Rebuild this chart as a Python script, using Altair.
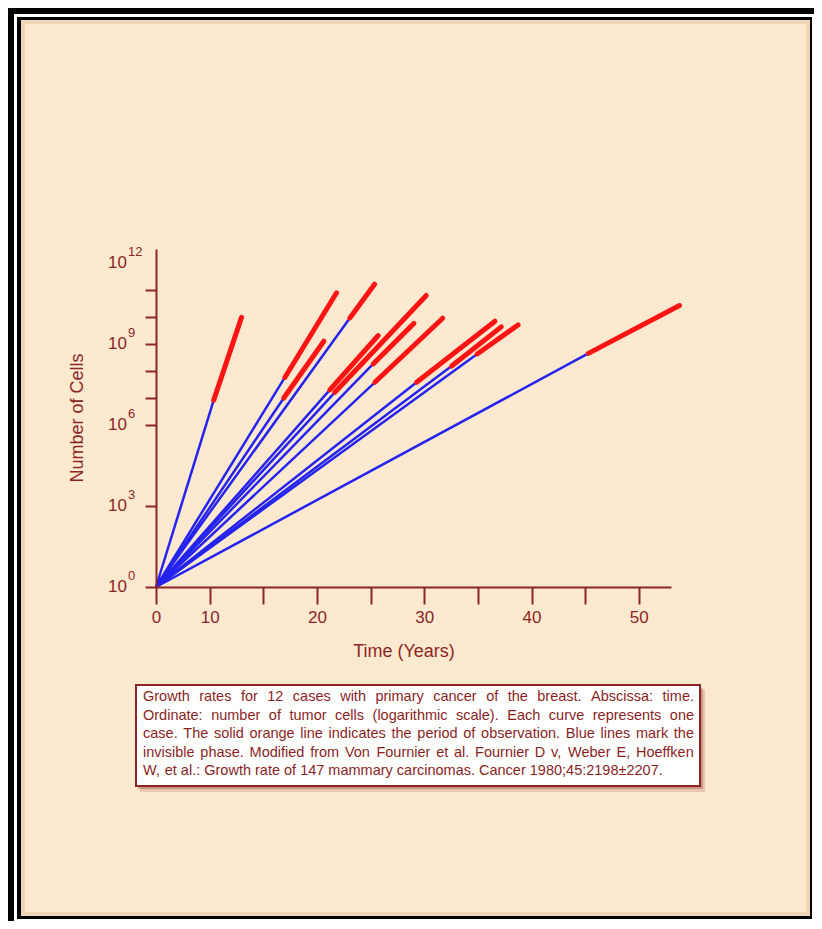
import altair as alt
import pandas as pd

# ---------------- data ----------------
case_ids = list(range(1, 13))
origin_time = 5.0          # the axis point labelled "0"
origin_cells = 1.0         # 10^0
# start / end of the observed (solid red) phase, time in axis units
obs_start_time = [10.38, 17.01, 16.91, 23.07, 21.20, 21.67, 25.24, 25.40, 29.29, 32.56, 34.94, 45.30]
obs_end_time = [12.97, 21.83, 20.64, 25.37, 25.71, 30.19, 29.04, 31.72, 36.59, 37.18, 38.74, 53.79]
# number of cells as log10 exponents
obs_start_log_cells = [6.91, 7.75, 6.99, 9.95, 7.29, 7.20, 8.25, 7.57, 7.57, 8.17, 8.62, 8.64]
obs_end_log_cells = [9.97, 10.88, 9.09, 11.20, 9.30, 10.78, 9.75, 9.94, 9.83, 9.62, 9.69, 10.41]

x_tick_values = [5, 10, 15, 20, 25, 30, 35, 40, 45, 50]
y_tick_exponents = [0, 3, 6, 7, 8, 9, 10, 11]
y_label_exponents = [0, 3, 6, 9, 12]

caption_lines = [
    "Growth rates for 12 cases with primary cancer of the breast. Abscissa: time.",
    "Ordinate: number of tumor cells (logarithmic scale). Each curve represents one",
    "case. The solid orange line indicates the period of observation. Blue lines mark the",
    "invisible phase. Modified from Von Fournier et al. Fournier D v, Weber E, Hoeffken",
    "W, et al.: Growth rate of 147 mammary carcinomas. Cancer 1980;45:2198\u00b12207.",
]

# ---------------- styling ----------------
AX = "#8c2626"
BLUE = "#2424ee"
RED = "#ff1414"
PEACH = "#fde9cf"
FONT = "Liberation Sans"

# ---------------- tables ----------------
rows = []
for i, c in enumerate(case_ids):
    rows.append(dict(case=c, phase="invisible", order=0, time=origin_time, cells=origin_cells))
    rows.append(dict(case=c, phase="invisible", order=1, time=obs_start_time[i],
                     cells=10 ** obs_start_log_cells[i]))
    rows.append(dict(case=c, phase="observed", order=0, time=obs_start_time[i],
                     cells=10 ** obs_start_log_cells[i]))
    rows.append(dict(case=c, phase="observed", order=1, time=obs_end_time[i],
                     cells=10 ** obs_end_log_cells[i]))
lines_df = pd.DataFrame(rows)

ylab_df = pd.DataFrame({
    "cells": [10.0 ** e for e in y_label_exponents],
    "base": ["10"] * len(y_label_exponents),
    "exp": [str(e) for e in y_label_exponents],
})

# justified caption layout using Arial / Liberation Sans advance widths
W = {' ': 278, '(': 333, ')': 333, ',': 278, '-': 333, '.': 278, ':': 278, ';': 278, '\u00b1': 549}
for ch in "0123456789":
    W[ch] = 556
W.update(dict(zip("ABCDEFGHIJKLMNOPQRSTUVWXYZ",
                  [667, 667, 722, 722, 667, 611, 778, 722, 278, 500, 667, 556, 833, 722, 778,
                   667, 778, 722, 667, 611, 722, 667, 944, 667, 667, 611])))
W.update(dict(zip("abcdefghijklmnopqrstuvwxyz",
                  [556, 556, 500, 556, 556, 278, 556, 556, 222, 222, 500, 222, 833, 556, 556,
                   556, 556, 333, 500, 278, 556, 500, 722, 500, 500, 500])))
CAP_FS = 14.5
CAP_LEFT, CAP_RIGHT = -13, 538
CAP_TOP, CAP_STEP = 448, 18.5


def wwidth(s):
    return sum(W.get(ch, 556) for ch in s) / 1000.0 * CAP_FS


cap_rows = []
for li, line in enumerate(caption_lines):
    words = line.split(" ")
    y = CAP_TOP + li * CAP_STEP
    if li < len(caption_lines) - 1:
        total = sum(wwidth(w) for w in words)
        gap = (CAP_RIGHT - CAP_LEFT - total) / (len(words) - 1)
    else:
        gap = wwidth(" ")
    x = CAP_LEFT
    for w in words:
        cap_rows.append(dict(word=w, px=x, py=y))
        x += wwidth(w) + gap
cap_df = pd.DataFrame(cap_rows)

one = pd.DataFrame({"k": [0]})

# ---------------- encodings ----------------
xscale = alt.Scale(domain=[5, 53], nice=False, zero=False)
yscale = alt.Scale(type="log", domain=[1, 10 ** 12.5], nice=False)
xaxis = alt.Axis(values=x_tick_values, title=None, grid=False, zindex=1,
                 labelExpr="datum.value == 5 ? '0' : (datum.value % 10 == 0 ? datum.label : '')",
                 domainColor=AX, domainWidth=2, tickColor=AX, tickWidth=2, tickSize=17,
                 labelColor=AX, labelFont=FONT, labelFontSize=17, labelPadding=5,
                 labelFlush=False, labelOverlap=False)
yaxis = alt.Axis(values=[10.0 ** e for e in y_tick_exponents], title=None, grid=False, zindex=1,
                 labels=False, domainColor=AX, domainWidth=2, tickColor=AX,
                 tickWidth=2, tickSize=11)
x_enc = alt.X("time:Q", scale=xscale, axis=xaxis)
y_enc = alt.Y("cells:Q", scale=yscale, axis=yaxis)


def rect(x1, x2, y1, y2, **kw):
    return alt.Chart(one).mark_rect(**kw).encode(
        x=alt.value(x1), x2=alt.value(x2), y=alt.value(y1), y2=alt.value(y2))


frame = [
    rect(-142, 658, -235, 672, color="white"),
    rect(-139, 656, -232, 670, color="black"),
    rect(-135, 654, -229, 667, color=PEACH),
    rect(-133, 652, -227, 665, filled=False, stroke="#e6c9a6", strokeWidth=4, strokeOpacity=0.6),
]

box = [
    rect(-16, 549, 441, 543, color=AX, opacity=0.18),
    rect(-18, 547, 439, 540, color=AX, opacity=0.3),
    rect(-20, 544, 436, 537, color="white", stroke=AX, strokeWidth=2),
]

invisible = alt.Chart(lines_df).transform_filter("datum.phase == 'invisible'").mark_line(
    color=BLUE, strokeWidth=2.5).encode(x=x_enc, y=y_enc, detail="case:N", order="order:Q")
observed = alt.Chart(lines_df).transform_filter("datum.phase == 'observed'").mark_line(
    color=RED, strokeWidth=5, strokeCap="round").encode(
    x=x_enc, y=y_enc, detail="case:N", order="order:Q")

ylab_base = alt.Chart(ylab_df).mark_text(
    align="right", baseline="middle", font=FONT, fontSize=17, color=AX).encode(
    x=alt.value(-29), y=y_enc, text="base:N")
ylab_exp = alt.Chart(ylab_df).mark_text(
    align="left", baseline="middle", font=FONT, fontSize=13, color=AX, dy=-11).encode(
    x=alt.value(-28), y=y_enc, text="exp:N")

ytitle = alt.Chart(one).mark_text(
    text="Number of Cells", angle=270, font=FONT, fontSize=18, color=AX,
    align="center", baseline="middle").encode(x=alt.value(-78), y=alt.value(169))
xtitle = alt.Chart(one).mark_text(
    text="Time (Years)", font=FONT, fontSize=18, color=AX,
    align="center", baseline="middle").encode(x=alt.value(248), y=alt.value(403))

caption = alt.Chart(cap_df).mark_text(
    align="left", baseline="middle", font=FONT, fontSize=CAP_FS, color="#8a1f1f").encode(
    x=alt.X("px:Q", scale=None, axis=None), y=alt.Y("py:Q", scale=None, axis=None), text="word:N")

chart = alt.layer(
    *frame, *box, invisible, observed, ylab_base, ylab_exp, ytitle, xtitle, caption
).properties(
    width=515, height=338, background="black",
    autosize=alt.AutoSizeParams(type="none"),
    padding={"left": 148, "top": 241, "right": 143, "bottom": 334},
).configure_view(strokeWidth=0)

chart.save("out.html", embed_options={"renderer": "svg", "actions": False})
